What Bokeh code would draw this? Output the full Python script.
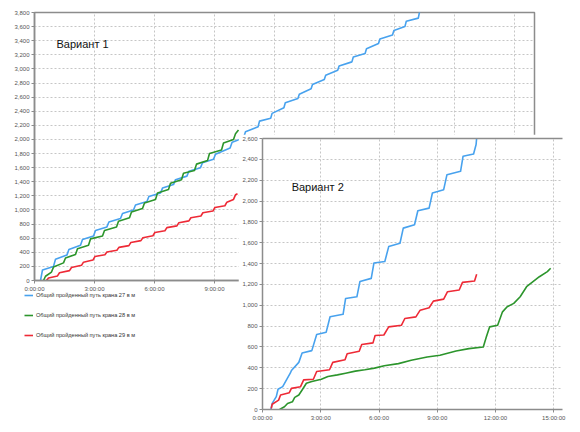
from bokeh.plotting import figure
from bokeh.models import (FixedTicker, SingleIntervalTicker, NumeralTickFormatter,
                          Legend, LegendItem, Label, LinearAxis, Range1d)
from bokeh.embed import file_html
from bokeh.resources import INLINE

# ---------------- data: Вариант 1 (hours, metres) ----------------
blue1_t = [0.30, 0.40, 0.95, 1.05, 1.62, 1.72, 2.30, 2.40, 2.95, 3.05, 3.62, 3.72, 4.30, 4.40,
           4.95, 5.05, 5.62, 5.72, 6.30, 6.40, 6.95, 7.05, 7.62, 7.72, 8.30, 8.40, 8.95, 9.05,
           9.78, 9.88, 10.45, 10.55, 11.18, 11.25, 11.81, 11.88, 12.47, 12.54, 13.17, 13.24,
           13.83, 13.90, 14.49, 14.56, 15.16, 15.23, 15.87, 15.94, 16.53, 16.60, 17.20, 17.27,
           17.90, 17.97, 18.52, 18.59, 19.19, 19.26]
blue1_v = [0, 150, 200, 300, 360, 440, 500, 580, 630, 710, 760, 830, 880, 950,
           1000, 1070, 1120, 1190, 1240, 1310, 1360, 1430, 1480, 1550, 1600, 1670, 1720, 1790,
           1880, 1960, 2020, 2110, 2180, 2260, 2300, 2370, 2450, 2520, 2580, 2640,
           2720, 2780, 2850, 2910, 2980, 3040, 3100, 3170, 3220, 3285, 3360, 3425,
           3480, 3545, 3600, 3675, 3720, 3820]

green1_t = [0.45, 0.55, 0.85, 0.95, 1.45, 1.55, 2.05, 2.15, 2.70, 2.80, 3.40, 3.50, 4.10, 4.20,
            4.75, 4.85, 5.40, 5.50, 6.05, 6.15, 6.70, 6.80, 7.35, 7.45, 8.00, 8.10, 8.65, 8.75,
            9.35, 9.45, 9.95, 10.05, 10.20]
green1_v = [0, 60, 120, 190, 250, 320, 370, 450, 500, 590, 630, 710, 760, 840,
            890, 970, 1020, 1100, 1150, 1240, 1290, 1380, 1430, 1520, 1560, 1650, 1700, 1800,
            1850, 1950, 2000, 2080, 2133]

red1_t = [0.60, 0.70, 1.15, 1.25, 1.75, 1.85, 2.35, 2.45, 2.92, 3.02, 3.52, 3.62, 4.12, 4.22,
          4.72, 4.82, 5.32, 5.42, 5.92, 6.02, 6.52, 6.62, 7.12, 7.22, 7.72, 7.82, 8.32, 8.42,
          8.92, 9.02, 9.52, 9.62, 9.95, 10.05, 10.15]
red1_v = [0, 35, 65, 110, 140, 185, 215, 260, 290, 340, 365, 405, 430, 470,
          495, 540, 565, 605, 635, 680, 705, 750, 775, 820, 845, 890, 915, 960,
          985, 1035, 1060, 1110, 1150, 1215, 1229]

# ---------------- data: Вариант 2 ----------------
blue2_t = [0.43, 0.50, 0.71, 0.80, 1.04, 1.43, 1.49, 1.87, 2.04, 2.54, 2.79, 3.28, 3.48, 4.15,
           4.28, 4.86, 5.02, 5.60, 5.74, 6.30, 6.50, 7.08, 7.25, 7.83, 8.00, 8.58, 8.75, 9.33,
           9.50, 10.20, 10.33, 10.87, 11.00, 11.05]
blue2_v = [0, 58, 123, 194, 219, 348, 374, 452, 542, 565, 719, 742, 890, 913,
           1065, 1081, 1229, 1258, 1406, 1420, 1563, 1595, 1740, 1772, 1907, 1932, 2077, 2109,
           2253, 2285, 2430, 2452, 2542, 2650]

red2_t = [0.45, 0.50, 0.83, 0.93, 1.38, 1.49, 1.96, 2.12, 2.62, 2.79, 3.45, 3.62, 4.25, 4.36,
          4.98, 5.11, 5.69, 5.80, 6.25, 6.50, 7.16, 7.33, 7.90, 8.12, 8.58, 8.80, 9.33, 9.53,
          10.13, 10.30, 10.92, 11.03]
red2_v = [10, 50, 90, 139, 161, 203, 219, 284, 290, 365, 381, 452, 477, 535,
          558, 623, 639, 710, 715, 793, 809, 873, 889, 953, 976, 1040, 1059, 1130,
          1146, 1220, 1233, 1297]

green2_t = [0.88, 1.13, 1.29, 1.54, 1.66, 1.87, 2.04, 2.26, 2.54, 3.03, 3.37, 3.86, 4.28, 4.78,
            5.27, 5.77, 6.27, 7.00, 7.66, 8.48, 9.14, 9.97, 10.63, 11.37, 11.53, 11.70, 12.11,
            12.36, 12.60, 12.94, 13.27, 13.60, 13.93, 14.26, 14.67, 14.84]
green2_v = [0, 26, 58, 74, 116, 139, 187, 252, 268, 290, 316, 332, 348, 368,
            381, 397, 419, 440, 472, 504, 520, 562, 584, 600, 697, 793, 809,
            937, 986, 1018, 1082, 1178, 1226, 1274, 1323, 1355]

x1_ticks = [0, 3, 6, 9, 12, 15, 18, 21, 24]
x1_labels = ["0:00:00", "3:00:00", "6:00:00", "9:00:00", "12:00:00", "15:00:00",
             "18:00:00", "21:00:00", "24:00:00"]
x2_ticks = [0, 3, 6, 9, 12, 15]
x2_labels = ["0:00:00", "3:00:00", "6:00:00", "9:00:00", "12:00:00", "15:00:00"]
legend_labels = ["Общий пройденный путь крана 27 в м",
                 "Общий пройденный путь крана 28 в м",
                 "Общий пройденный путь крана 29 в м"]
titles = ["Вариант 1", "Вариант 2"]

BLUE, GREEN, RED = "#48a2ee", "#2c952c", "#ee2a36"
AX = "#8c8c8c"
FONT = "Liberation Sans"


def style(p, xt, xl):
    p.xaxis.ticker = FixedTicker(ticks=xt)
    p.xaxis.major_label_overrides = dict(zip(xt, xl))
    p.yaxis.ticker = SingleIntervalTicker(interval=200, num_minor_ticks=0)
    p.yaxis.formatter = NumeralTickFormatter(format="0,0")
    for ax in p.axis:
        ax.major_label_text_font = FONT
        ax.major_label_text_font_size = "6px"
        ax.major_label_text_color = "#555555"
        ax.axis_line_color = AX
        ax.axis_line_width = 1.5
        ax.major_tick_line_color = AX
        ax.major_tick_in = 0
        ax.major_tick_out = 3
        ax.minor_tick_line_color = None
        ax.major_label_standoff = 2
    p.grid.grid_line_color = "#c6c6c6"
    p.grid.grid_line_dash = "2 2"
    p.grid.grid_line_width = 1
    p.background_fill_color = "white"
    p.border_fill_color = "white"


# ---------------- figure 1 ----------------
p1 = figure(frame_width=500, frame_height=268, output_backend="svg", toolbar_location=None,
            x_range=Range1d(0, 25), y_range=Range1d(0, 3800),
            min_border_left=26, min_border_right=4, min_border_top=4, min_border_bottom=6)
style(p1, x1_ticks, x1_labels)
p1.outline_line_color = AX
p1.outline_line_width = 1.5
p1.line(blue1_t, blue1_v, line_color=BLUE, line_width=1.6, line_join="round")
p1.line(green1_t, green1_v, line_color=GREEN, line_width=1.6, line_join="round")
p1.line(red1_t, red1_v, line_color=RED, line_width=1.6, line_join="round")
p1.add_layout(Label(x=1.1, y=3350, text=titles[0], text_font=FONT, text_font_size="11px",
                    text_baseline="middle", text_color="#111111"))
p1.styles = {"position": "absolute", "left": "8px", "top": "8px", "z-index": "1"}

# ---------------- legend of figure 1 (separate small panel) ----------------
# the same series are drawn here but kept outside this panel's visible range,
# so only the legend of this panel shows
p3 = figure(frame_width=200, frame_height=62, output_backend="svg", toolbar_location=None,
            x_range=Range1d(-3, -2), y_range=Range1d(-3, -2),
            x_axis_type=None, y_axis_type=None,
            min_border_left=0, min_border_right=0, min_border_top=0, min_border_bottom=0)
p3.grid.visible = False
p3.outline_line_color = None
p3.background_fill_alpha = 0
p3.border_fill_alpha = 0
leg_r = [p3.line(blue1_t, blue1_v, line_color=BLUE, line_width=1.6),
         p3.line(green1_t, green1_v, line_color=GREEN, line_width=1.6),
         p3.line(red1_t, red1_v, line_color=RED, line_width=1.6)]
leg = Legend(items=[LegendItem(label=legend_labels[i], renderers=[r])
                    for i, r in enumerate(leg_r)],
             location="top_left", orientation="vertical", glyph_width=9, glyph_height=12,
             label_height=12, spacing=8, label_standoff=3, padding=2, margin=0,
             border_line_color=None, background_fill_alpha=0,
             label_text_font=FONT, label_text_font_size="5.6px", label_text_color="#333333")
p3.add_layout(leg, "center")
p3.styles = {"position": "absolute", "left": "24px", "top": "289px", "z-index": "1"}

# ---------------- figure 2 ----------------
p2 = figure(frame_width=300, frame_height=271, output_backend="svg", toolbar_location=None,
            x_range=Range1d(0, 15.45), y_range=Range1d(0, 2600),
            min_border_left=24, min_border_right=10, min_border_top=4, min_border_bottom=15)
style(p2, x2_ticks, x2_labels)
p2.outline_line_color = None
p2.line(blue2_t, blue2_v, line_color=BLUE, line_width=1.6, line_join="round")
p2.line(red2_t, red2_v, line_color=RED, line_width=1.6, line_join="round")
p2.line(green2_t, green2_v, line_color=GREEN, line_width=1.6, line_join="round")
top_ax = LinearAxis(ticker=FixedTicker(ticks=[]), axis_line_color=AX, axis_line_width=1.5,
                    major_tick_line_color=None, minor_tick_line_color=None,
                    major_label_text_font_size="0px")
p2.add_layout(top_ax, "above")
p2.add_layout(Label(x=1.5, y=2130, text=titles[1], text_font=FONT, text_font_size="11px",
                    text_baseline="middle", text_color="#111111"))
p2.styles = {"position": "absolute", "left": "238px", "top": "134px", "z-index": "2"}

open("out.html", "w").write(file_html([p1, p3, p2], INLINE))
